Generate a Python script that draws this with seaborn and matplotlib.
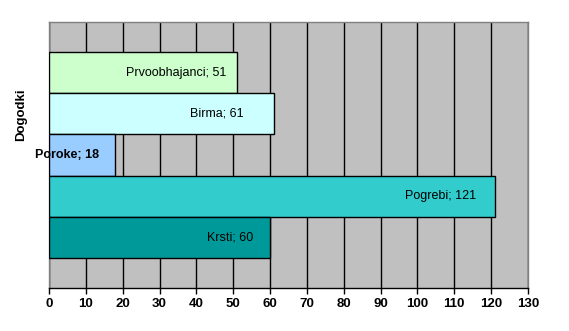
import matplotlib
matplotlib.use("Agg")
import matplotlib.pyplot as plt
import seaborn as sns
import pandas as pd

categories = ["Prvoobhajanci", "Birma", "Poroke", "Pogrebi", "Krsti"]
values = [51, 61, 18, 121, 60]
colors = ["#CCFFCC", "#CCFFFF", "#99CCFF", "#33CCCC", "#009999"]
label_offsets_px = [11, 30, 16, 19, 17]
xticks = list(range(0, 131, 10))

sns.set_theme(style="white")
plt.rcParams["font.family"] = ["Liberation Sans", "DejaVu Sans"]

df = pd.DataFrame({"cat": categories, "val": values})

fig = plt.figure(figsize=(5.69, 3.31), dpi=100)
ax = fig.add_axes([49/569, 1-288/331, 479/569, 266/331])
ax.set_facecolor("#C0C0C0")

sns.barplot(data=df, y="cat", x="val", hue="cat", palette=colors, order=categories,
            hue_order=categories, width=1.0, edgecolor="black", linewidth=1.0,
            legend=False, ax=ax, zorder=3, saturation=1)

ax.set_xlim(0, 130)
ax.set_ylim(4.5 + 0.73, -0.5 - 0.73)
ax.set_xticks(xticks)
ax.set_xticklabels([str(t) for t in xticks], fontsize=9.5, fontweight="bold", color="black")
ax.set_yticks([])
ax.set_ylabel("Dogodki", fontsize=9.5, fontweight="bold", color="black")
ax.yaxis.set_label_coords(-0.045, 0.65)
ax.set_xlabel("")
ax.grid(axis="x", color="black", linewidth=1.0, zorder=1)
ax.set_axisbelow(True)
ax.tick_params(axis="x", bottom=True, length=4, width=1, color="black", pad=3)

for s in ["top", "right", "left"]:
    ax.spines[s].set_color("#808080")
    ax.spines[s].set_linewidth(1)
ax.spines["bottom"].set_color("black")
ax.spines["bottom"].set_linewidth(1)

px_per_unit = 479 / 130
for i, (c, v) in enumerate(zip(categories, values)):
    x = v - label_offsets_px[i] / px_per_unit
    ax.text(x, i, f"{c}; {v}", ha="right", va="center", fontsize=9,
            fontweight="bold" if c in ("Poroke",) else "normal", color="black", zorder=5,
            clip_on=False)

fig.savefig("out.png", dpi=100)
